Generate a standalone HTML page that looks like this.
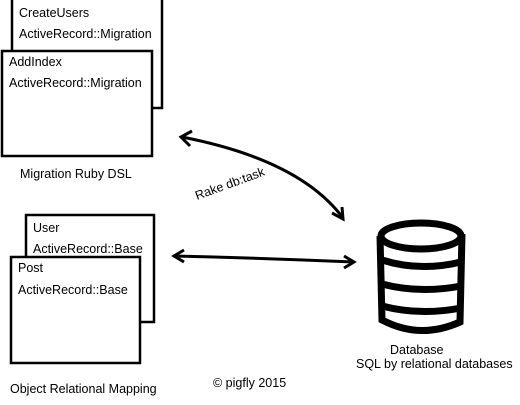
<!DOCTYPE html>
<html><head><style>
body{margin:0;width:520px;height:400px;background:#fff;overflow:hidden;font-family:"Liberation Sans",sans-serif;}
</style></head><body>
<svg width="520" height="400" xmlns="http://www.w3.org/2000/svg" font-family="Liberation Sans, sans-serif" font-size="12.5">
<rect x="12" y="-2" width="150" height="110" fill="#fff" stroke="#000" stroke-width="2.5"/>
<text x="19" y="17">CreateUsers</text>
<text x="19" y="38">ActiveRecord::Migration</text>
<rect x="2" y="51" width="150" height="105" fill="#fff" stroke="#000" stroke-width="2.5"/>
<text x="9" y="66">AddIndex</text>
<text x="9" y="87">ActiveRecord::Migration</text>
<text x="20" y="178">Migration Ruby DSL</text>

<rect x="26" y="215" width="128" height="107" fill="#fff" stroke="#000" stroke-width="2.5"/>
<text x="33" y="232">User</text>
<text x="33" y="253">ActiveRecord::Base</text>
<rect x="11" y="257" width="129" height="106" fill="#fff" stroke="#000" stroke-width="2.5"/>
<text x="18" y="272">Post</text>
<text x="18" y="294">ActiveRecord::Base</text>
<text x="10" y="393">Object Relational Mapping</text>

<path d="M182 137 Q300 160 343 218" fill="none" stroke="#000" stroke-width="3"/>
<path d="M192 131 L181 137 L190 146" fill="none" stroke="#000" stroke-width="3"/>
<path d="M332 213 L343 219 L342 207" fill="none" stroke="#000" stroke-width="3"/>
<text x="0" y="0" transform="translate(197,200) rotate(-20)">Rake db:task</text>

<path d="M174 256 Q260 258 354 262" fill="none" stroke="#000" stroke-width="3"/>
<path d="M184 250 L174 256 L184 262" fill="none" stroke="#000" stroke-width="3"/>
<path d="M344 256 L354 262 L344 268" fill="none" stroke="#000" stroke-width="3"/>

<g fill="none" stroke="#000" stroke-width="7">
<path d="M380 236 L382 320 Q420 340 460 322 L462 234"/>
<ellipse cx="421" cy="236" rx="40" ry="13"/>
<path d="M382 260 Q420 272 461 262"/>
<path d="M382 284 Q420 294 461 286"/>
<path d="M382 306 Q420 316 461 308"/>
</g>
<text x="390" y="354">Database</text>
<text x="356" y="368">SQL by relational databases</text>
<text x="213" y="387">© pigfly 2015</text>
</svg>
</body></html>
